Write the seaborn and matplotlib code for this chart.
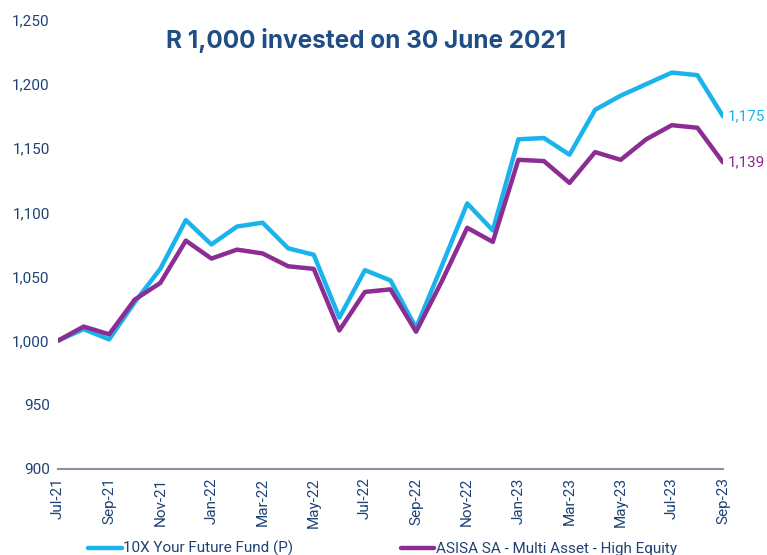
import pandas as pd
import seaborn as sns
import matplotlib.pyplot as plt

# monthly values, Jul-21 .. Sep-23
months = ["Jul-21", "Aug-21", "Sep-21", "Oct-21", "Nov-21", "Dec-21",
          "Jan-22", "Feb-22", "Mar-22", "Apr-22", "May-22", "Jun-22",
          "Jul-22", "Aug-22", "Sep-22", "Oct-22", "Nov-22", "Dec-22",
          "Jan-23", "Feb-23", "Mar-23", "Apr-23", "May-23", "Jun-23",
          "Jul-23", "Aug-23", "Sep-23"]
fund_10x = [1000, 1009, 1001, 1030, 1056, 1094, 1075, 1089, 1092, 1072, 1067, 1018,
            1055, 1047, 1010, 1058, 1107, 1086, 1157, 1158, 1145, 1180, 1191, 1200,
            1209, 1207, 1175]
asisa = [1000, 1011, 1005, 1032, 1045, 1078, 1064, 1071, 1068, 1058, 1056, 1008,
         1038, 1040, 1007, 1046, 1088, 1077, 1141, 1140, 1123, 1147, 1141, 1157,
         1168, 1166, 1139]
series_names = ["10X Your Future Fund (P)", "ASISA SA - Multi Asset - High Equity"]
colors = ["#1AB3EB", "#8C2D93"]
text_col = "#1F4275"

df = pd.DataFrame({
    "idx": list(range(len(months))) * 2,
    "month": months * 2,
    "value": fund_10x + asisa,
    "series": [series_names[0]] * len(months) + [series_names[1]] * len(months),
})

sns.set_style("white")
plt.rcParams["font.family"] = ["Roboto", "DejaVu Sans"]

fig = plt.figure(figsize=(7.67, 5.55), dpi=100)
ax = fig.add_axes([0.0756, 0.155, 0.867, 0.809])

sns.lineplot(data=df, x="idx", y="value", hue="series", palette=colors,
             linewidth=3.2, ax=ax)

ax.set_xlim(0, len(months) - 1)
ax.set_ylim(900, 1250)
ax.set_yticks(range(900, 1251, 50))
ax.set_yticklabels([f"{v:,}" for v in range(900, 1251, 50)], color=text_col, fontsize=11)
ax.set_xticks(range(0, len(months), 2))
ax.set_xticklabels(months[::2], rotation=90, color=text_col, fontsize=11)
ax.tick_params(axis="both", length=0, pad=6)
ax.set_xlabel("")
ax.set_ylabel("")

for s in ["top", "right", "left"]:
    ax.spines[s].set_visible(False)
ax.spines["bottom"].set_color("#8C8FA0")
ax.spines["bottom"].set_linewidth(1.5)

# end labels
last = len(months) - 1
ax.text(last + 0.2, fund_10x[-1], f"{fund_10x[-1]:,}", color=colors[0],
        fontsize=11, va="center", ha="left", clip_on=False)
ax.text(last + 0.2, asisa[-1], f"{asisa[-1]:,}", color=colors[1],
        fontsize=11, va="center", ha="left", clip_on=False)

fig.text(0.477, 0.927, "R 1,000 invested on 30 June 2021", ha="center", va="center",
         fontsize=17.5, fontweight="bold", color="#1F4E86",
         family=["Inter", "DejaVu Sans"])

ax.legend(loc="upper left", bbox_to_anchor=(0.025, -0.13), ncol=2, frameon=False,
          fontsize=11, handlelength=2.2, handletextpad=0.1, columnspacing=7,
          labelcolor=text_col)

fig.savefig("out.png", dpi=100)
